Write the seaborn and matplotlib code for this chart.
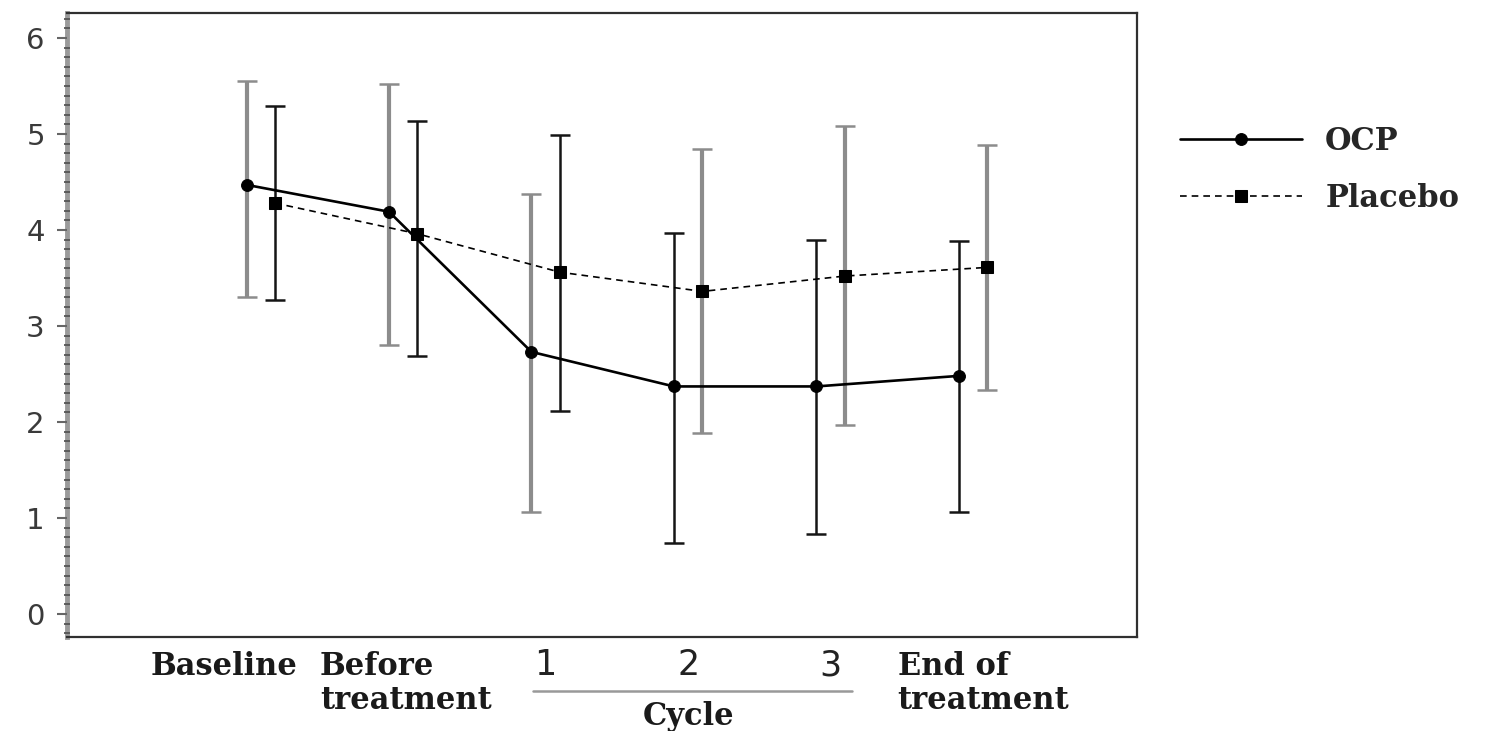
import numpy as np
import pandas as pd
import matplotlib
matplotlib.use("Agg")
import matplotlib.pyplot as plt
import matplotlib.transforms as mtransforms
from matplotlib.ticker import MultipleLocator
import seaborn as sns

# Time points
timepoints = ["Baseline", "Before\ntreatment", "1", "2", "3", "End of\ntreatment"]

# Means and error-bar limits per group
ocp_mean = [4.47, 4.19, 2.73, 2.37, 2.37, 2.48]
ocp_upper = [5.55, 5.52, 4.37, 3.97, 3.90, 3.88]
ocp_lower = [3.30, 2.80, 1.06, 0.74, 0.83, 1.06]

placebo_mean = [4.28, 3.96, 3.56, 3.36, 3.52, 3.61]
placebo_upper = [5.29, 5.13, 4.99, 4.84, 5.08, 4.89]
placebo_lower = [3.27, 2.69, 2.11, 1.89, 1.97, 2.33]

groups = ["OCP", "Placebo"]
cycle_label = "Cycle"

# Error-bar shading per point
ocp_bar_tone = ["grey", "grey", "grey", "black", "black", "black"]
placebo_bar_tone = ["black", "black", "black", "grey", "grey", "grey"]

sns.set_style("white")
plt.rcParams["font.family"] = ["DejaVu Sans"]

fig = plt.figure(figsize=(14.9, 7.31), dpi=100)
ax = fig.add_axes([0.045, 0.1286, 0.718, 0.8536])
ax.set_axisbelow(False)

idx = np.arange(len(timepoints))
offset = 0.1
df = pd.DataFrame({
    "x": np.concatenate([idx - offset, idx + offset]),
    "mean": ocp_mean + placebo_mean,
    "upper": ocp_upper + placebo_upper,
    "lower": ocp_lower + placebo_lower,
    "tone": ocp_bar_tone + placebo_bar_tone,
    "group": [groups[0]] * len(idx) + [groups[1]] * len(idx),
})

tone_style = {
    "grey": dict(color="#8c8c8c", lw=3.0, capsize=7, capthick=1.8),
    "black": dict(color="#151515", lw=1.8, capsize=7, capthick=1.8),
}
for _, r in df.iterrows():
    st = tone_style[r["tone"]]
    ax.errorbar(r["x"], r["mean"],
                yerr=[[r["mean"] - r["lower"]], [r["upper"] - r["mean"]]],
                fmt="none", ecolor=st["color"], elinewidth=st["lw"],
                capsize=st["capsize"], capthick=st["capthick"], zorder=2)

sns.lineplot(data=df[df["group"] == "OCP"], x="x", y="mean", ax=ax,
             color="black", linewidth=1.9, marker="o", markersize=8.5,
             markeredgecolor="black", label="OCP", sort=False, zorder=4)
sns.lineplot(data=df[df["group"] == "Placebo"], x="x", y="mean", ax=ax,
             color="black", linewidth=1.2, linestyle=(0, (4, 3)),
             marker="s", markersize=8, markeredgecolor="black",
             label="Placebo", sort=False, zorder=4)

ax.set_xlim(-1.36, 6.15)
ax.set_ylim(-0.24, 6.26)
ax.set_xlabel("")
ax.set_ylabel("")

# y axis
ax.set_yticks(range(0, 7))
ax.yaxis.set_minor_locator(MultipleLocator(0.1))
ax.tick_params(axis="y", which="major", left=True, length=7, width=1.5,
               color="#666666", labelsize=21, labelcolor="#3a3a3a", pad=9)
ax.tick_params(axis="y", which="minor", left=True, length=5, width=1.3,
               color="#555555", direction="inout")

# x axis: cycle numbers as ticks, other labels as text
ax.set_xticks(idx[2:5])
ax.set_xticklabels(timepoints[2:5])
ax.tick_params(axis="x", length=0, labelsize=25, labelcolor="#222222", pad=8)

for side in ["top", "right", "bottom"]:
    ax.spines[side].set_color("#303030")
    ax.spines[side].set_linewidth(1.6)
ax.spines["left"].set_color("#9a9a9a")
ax.spines["left"].set_linewidth(3.5)

trans = mtransforms.blended_transform_factory(ax.transData, ax.transAxes)
serif_bold = dict(family=["DejaVu Serif"], fontweight="bold", fontsize=22,
                  color="#1a1a1a")
ax.text(-0.26, -0.022, timepoints[0], transform=trans, ha="center", va="top",
        **serif_bold)
ax.text(0.414, -0.022, timepoints[1], transform=trans, ha="left", va="top",
        linespacing=1.15, **serif_bold)
ax.text(4.47, -0.022, timepoints[5], transform=trans, ha="left", va="top",
        linespacing=1.15, **serif_bold)

# cycle bracket
ax.plot([1.91, 4.15], [-0.0865, -0.0865], transform=trans, color="#999999",
        lw=1.8, clip_on=False)
ax.text(3.0, -0.128, cycle_label, transform=trans, ha="center", va="center",
        **serif_bold)

leg = ax.legend(loc="upper left", bbox_to_anchor=(0.792, 0.828),
                bbox_transform=fig.transFigure, frameon=False,
                prop=dict(family="DejaVu Serif", weight="bold", size=22),
                handlelength=4.0, handletextpad=0.75, labelspacing=0.85,
                borderpad=0, borderaxespad=0)

fig.savefig("out.png", dpi=100)
